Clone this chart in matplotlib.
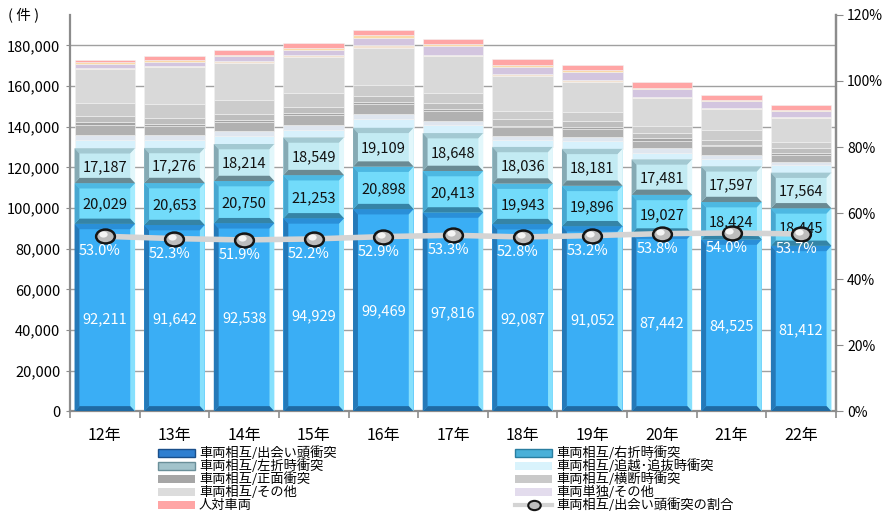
import numpy as np
import matplotlib
matplotlib.use("Agg")
import matplotlib.pyplot as plt
from matplotlib.patches import Polygon, Rectangle
from matplotlib.lines import Line2D
from matplotlib.path import Path
from matplotlib.transforms import Affine2D
from matplotlib.ticker import FuncFormatter, MultipleLocator

plt.rcParams["font.family"] = ["Noto Sans CJK JP", "DejaVu Sans"]

years = ["12年", "13年", "14年", "15年", "16年", "17年", "18年", "19年", "20年", "21年", "22年"]

# 車両相互 (labelled segments)
deai = [92211, 91642, 92538, 94929, 99469, 97816, 92087, 91052, 87442, 84525, 81412]
usetsu = [20029, 20653, 20750, 21253, 20898, 20413, 19943, 19896, 19027, 18424, 18445]
sasetsu = [17187, 17276, 18214, 18549, 19109, 18648, 18036, 18181, 17481, 17597, 17564]

# upper segments
oikoshi = [4260, 4100, 3940, 3610, 4100, 3770, 3610, 3940, 3280, 3770, 3940]
other1 = [2130, 2130, 2460, 2460, 2460, 1970, 1640, 1640, 2130, 1970, 1310]
shomen = [4920, 4430, 4430, 4920, 4920, 4920, 4590, 3940, 3770, 4260, 3280]
other2 = [1640, 1310, 1150, 820, 980, 980, 330, 980, 1150, 660, 1150]
other3 = [2790, 2950, 2620, 3280, 3280, 3120, 3440, 3120, 2460, 2130, 2460]
odan = [6720, 6890, 6890, 6560, 5250, 4920, 4100, 4260, 3610, 4920, 2950]
sonota = [16400, 18040, 18370, 18040, 18370, 18200, 17060, 15090, 13940, 10660, 11810]
other4 = [660, 660, 820, 820, 1310, 660, 1150, 820, 490, 490, 660]
tandoku = [2130, 1970, 2460, 2460, 3610, 4260, 3610, 3940, 3610, 3120, 2790]
other5 = [820, 660, 820, 1150, 1310, 820, 980, 820, 660, 660, 490]
jintai = [1150, 1970, 2460, 2300, 2460, 2460, 2950, 2790, 2950, 2620, 2620]

# 出会い頭衝突の割合
ratio = [53.0, 52.3, 51.9, 52.2, 52.9, 53.3, 52.8, 53.2, 53.8, 54.0, 53.7]

x = np.arange(len(years))
W = 0.87

fig = plt.figure(figsize=(8.85, 5.13), dpi=100)
ax = fig.add_axes([0.0791, 0.198, 0.8655, 0.773])
ax.set_xlim(-0.5, 10.5)
ax.set_ylim(0, 195000)

ax.yaxis.set_major_locator(MultipleLocator(20000))
ax.yaxis.grid(True, color="#a0a0a0", lw=1.0)
ax.set_axisbelow(True)


def bevel(ax, xs, bottoms, heights, cols, bx=0.07, by=2600):
    top, right, low, left = cols
    for xc, y0, h in zip(xs, bottoms, heights):
        x0, x1 = xc - W / 2, xc + W / 2
        y1 = y0 + h
        ix0, ix1, iy0, iy1 = x0 + bx, x1 - bx, y0 + by, y1 - by
        sides = [
            ([(x0, y1), (x1, y1), (ix1, iy1), (ix0, iy1)], top),
            ([(x1, y0), (x1, y1), (ix1, iy1), (ix1, iy0)], right),
            ([(x0, y0), (x1, y0), (ix1, iy0), (ix0, iy0)], low),
            ([(x0, y0), (x0, y1), (ix0, iy1), (ix0, iy0)], left),
        ]
        for pts, c in sides:
            ax.add_patch(Polygon(pts, closed=True, facecolor=c, lw=0, zorder=3))


bottom = np.zeros(len(x))
beveled = [
    (deai, "#3aaef5", ("#2a8fd8", "#86e0fd", "#1f6aa3", "#2579b8")),
    (usetsu, "#72dbfa", ("#4db8e2", "#a4ecff", "#3584a6", "#48a7d0")),
    (sasetsu, "#c3ebf3", ("#a3c9d2", "#e2f7fb", "#6a8a93", "#86aab4")),
]
for vals, face, cols in beveled:
    ax.bar(x, vals, W, bottom=bottom, color=face, lw=0, zorder=2)
    bevel(ax, x, bottom, vals, cols)
    bottom = bottom + np.array(vals)

flat = [
    (oikoshi, "#d7f1fc"),
    (other1, "#dfe6ef"),
    (shomen, "#b1b1b1"),
    (other2, "#a4a4a4"),
    (other3, "#bebebe"),
    (odan, "#cccccc"),
    (sonota, "#d9d9d9"),
    (other4, "#f3e2d2"),
    (tandoku, "#d3c5df"),
    (other5, "#fbd9a8"),
    (jintai, "#ffa5a5"),
]
for vals, c in flat:
    ax.bar(x, vals, W, bottom=bottom, color=c, edgecolor="#f2f2f2", lw=0.4, zorder=2)
    bottom = bottom + np.array(vals)

# segment values
b = np.zeros(len(x))
for vals, tc in [(deai, "white"), (usetsu, "#111111"), (sasetsu, "#111111")]:
    for xi, y0, v in zip(x, b, vals):
        ax.text(xi, y0 + v / 2 - 600, f"{v:,}", ha="center", va="center",
                fontsize=10.5, color=tc, zorder=5)
    b = b + np.array(vals)

# axes styling
ax.spines["top"].set_visible(False)
for s in ["left", "bottom", "right"]:
    ax.spines[s].set_color("#8c8c8c")
    ax.spines[s].set_linewidth(1.6)

ax.yaxis.set_major_formatter(FuncFormatter(lambda v, p: f"{int(v):,}"))
ax.set_yticks(np.arange(0, 180001, 20000))
ax.tick_params(axis="y", length=3, color="#8c8c8c", labelsize=10.5, pad=4)
ax.set_xticks(x)
ax.set_xticklabels(years)
ax.set_xticks(np.arange(-0.5, 10.6, 1), minor=True)
ax.tick_params(axis="x", which="major", length=0, labelsize=11.5, pad=11)
ax.tick_params(axis="x", which="minor", length=5, color="#8c8c8c", width=1.2)

# ratio line on the right axis
ax2 = ax.twinx()
ax2.set_ylim(0, 1.2)
ax2.set_yticks(np.arange(0, 1.21, 0.2))
ax2.yaxis.set_major_formatter(FuncFormatter(lambda v, p: f"{v:.0%}"))
ax2.tick_params(axis="y", length=5, color="#8c8c8c", labelsize=10, pad=3)
for s in ["top", "left", "bottom"]:
    ax2.spines[s].set_visible(False)
ax2.spines["right"].set_color("#8c8c8c")
ax2.spines["right"].set_linewidth(1.6)

# slightly flattened sphere marker
circ = Path.unit_circle()
oval = Path(Affine2D().scale(1.35, 1.0).transform(circ.vertices), circ.codes)

r = np.array(ratio) / 100
ax2.plot(x, r, color="#d4d4d4", lw=4, zorder=3)
ax2.plot(x, r, ls="none", marker=oval, ms=13.5, mfc="#bdbdbd", mec="#151515",
         mew=1.8, zorder=4)
ax2.plot(x - 0.03, r + 0.006, ls="none", marker=oval, ms=6, mfc="#f4f4f4", mew=0, zorder=5)
for xi, v in zip(x, ratio):
    ax2.text(xi - 0.07, v / 100 - 0.046, f"{v:.1f}%", ha="center", va="center",
             fontsize=10.5, color="white", zorder=6)

fig.text(0.009, 0.972, "( 件 )", fontsize=10.5, ha="left", va="center")

# legend, two columns laid out by hand (rows 13px apart)
FW, FH = 885.0, 513.0
legend_rows = [
    # (column x px, row, face, edge, label)
    (158, 0, "#2f7fd0", "#1a4f8a", "車両相互/出会い頭衝突"),
    (158, 1, "#a2c3cb", "#6a8f99", "車両相互/左折時衝突"),
    (158, 2, "#a6a6a6", None, "車両相互/正面衝突"),
    (158, 3, "#dcdcdc", None, "車両相互/その他"),
    (158, 4, "#ffa5a5", None, "人対車両"),
    (515, 0, "#4ab0d8", "#2a7ea0", "車両相互/右折時衝突"),
    (515, 1, "#d9f3fc", None, "車両相互/追越･追抜時衝突"),
    (515, 2, "#c9c9c9", None, "車両相互/横断時衝突"),
    (515, 3, "#e3dced", None, "車両単独/その他"),
]
for px, row, face, edge, label in legend_rows:
    cy = 453 + 13 * row
    fig.add_artist(Rectangle((px / FW, 1 - (cy + 4) / FH), 37 / FW, 8 / FH,
                             transform=fig.transFigure, facecolor=face,
                             edgecolor=edge if edge else face, lw=1 if edge else 0))
    fig.text((px + 41) / FW, 1 - cy / FH, label, fontsize=9.5, ha="left", va="center")

cy = 453 + 13 * 4
fig.add_artist(Line2D([515 / FW, 552 / FW], [1 - cy / FH] * 2, transform=fig.transFigure,
                      color="#d4d4d4", lw=3))
fig.add_artist(Line2D([533.5 / FW], [1 - cy / FH], transform=fig.transFigure,
                      marker=oval, ms=9, mfc="#bdbdbd", mec="#151515", mew=1.5))
fig.text(556 / FW, 1 - cy / FH, "車両相互/出会い頭衝突の割合", fontsize=9.5,
         ha="left", va="center")

fig.savefig("out.png", dpi=100)
